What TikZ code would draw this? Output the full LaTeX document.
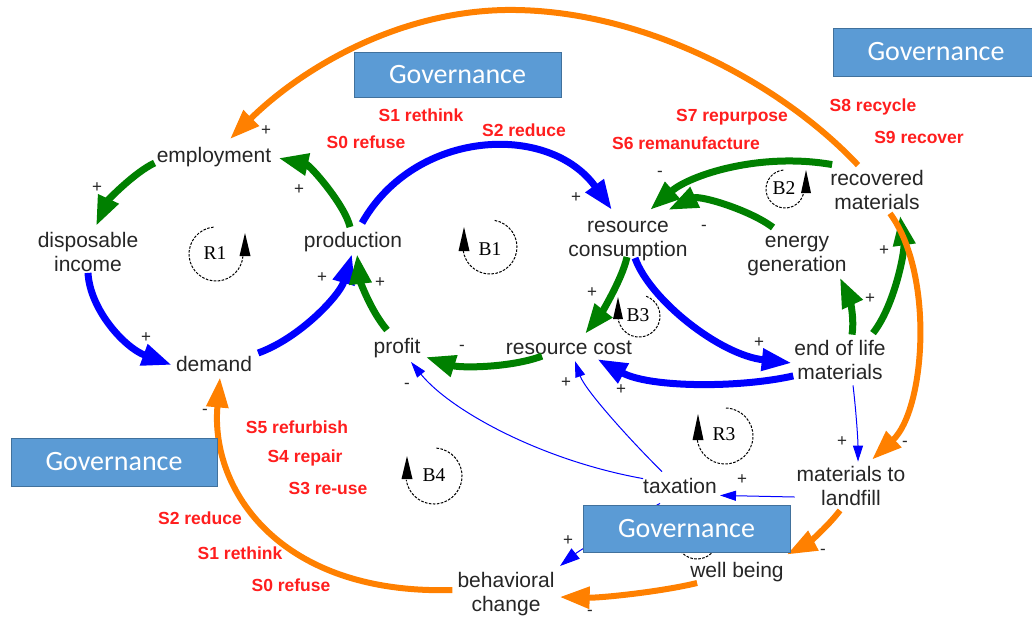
\documentclass[tikz,border=0pt]{standalone}
\usepackage{fontspec}
\setmainfont{Liberation Sans}
\newfontfamily\govfont{Carlito}
\newfontfamily\loopfont{Liberation Serif}
\usetikzlibrary{arrows.meta}
\definecolor{cldblue}{RGB}{0,0,255}
\definecolor{cldgreen}{RGB}{0,128,0}
\definecolor{cldorange}{RGB}{255,128,0}
\definecolor{stratred}{RGB}{255,30,30}
\definecolor{govfill}{RGB}{91,155,213}
\definecolor{govedge}{RGB}{65,113,156}
\definecolor{vartext}{RGB}{38,38,38}

\begin{document}
\begin{tikzpicture}[x=1pt,y=-1pt,
  var/.style={font=\fontsize{21}{24}\selectfont, text=vartext, align=center, inner sep=1pt},
  strat/.style={font=\bfseries\fontsize{17.5}{20}\selectfont, text=stratred, inner sep=0pt},
  sgn/.style={font=\fontsize{17}{17}\selectfont, text=vartext, inner sep=0pt},
  gov/.style={draw=govedge, line width=1pt, fill=govfill, text=white,
    font=\govfont\fontsize{28}{30}\selectfont, inner sep=0pt},
  looplbl/.style={font=\loopfont\fontsize{19.5}{20}\selectfont, inner sep=0pt},
  loopline/.style={draw=black, line width=1pt, dash pattern=on 2.6pt off 1.4pt},
  bigtip/.style={-{Triangle[length=30pt,width=21pt]}},
  blueflow/.style={draw=cldblue, line width=7pt, bigtip},
  greenflow/.style={draw=cldgreen, line width=7pt, bigtip},
  orangeflow/.style={draw=cldorange, line width=6pt, bigtip},
  thinflow/.style={draw=cldblue, line width=1pt, -{Triangle[length=16pt,width=10pt]}},
]
\useasboundingbox (0,0) rectangle (1032,621);
\fill[white] (0,0) rectangle (1032,621);
\clip (0,0) rectangle (1032,621);

% ---- variables ----
\node[var] (empl)   at (214,157) {employment};
\node[var] (disp)   at (88,252)  {disposable\\income};
\node[var] (dem)    at (214,364) {demand};
\node[var] (prod)   at (353,242) {production};
\node[var] (prof)   at (397,348) {profit};
\node[var] (rcons)  at (628,241) {resource\\consumption};
\node[var] (rcost)  at (569,348) {resource cost};
\node[var] (energy) at (797,256) {energy\\generation};
\node[var] (recov)  at (877,190) {recovered\\materials};
\node[var] (eol)    at (840,360) {end of life\\materials};
\node[var] (landf)  at (851,486) {materials to\\landfill};
\node[var] (tax)    at (680,486) {taxation};
\node[var] (well)   at (737,572) {well being};
\node[var] (behav)  at (506,594) {behavioral\\change};

% ---- loop markers ----
\node[looplbl] (r1) at (215,253) {R1};
\draw[loopline] ([shift={(95:27pt)}]216,254) arc[start angle=95, end angle=355, radius=27pt];
\fill (245,233) -- (239.5,256) -- (250.5,256) -- cycle;

\node[looplbl] (b1) at (490,249) {B1};
\draw[loopline] ([shift={(80:27pt)}]490,247) arc[start angle=80, end angle=-172, radius=27pt];
\fill (464,227) -- (458.5,251) -- (469.5,251) -- cycle;

\node[looplbl] (b3) at (638,315) {B3};
\draw[loopline] ([shift={(70:21pt)}]639,316) arc[start angle=70, end angle=-172, radius=21pt];
\fill (618,297) -- (613,319) -- (623,319) -- cycle;

\node[looplbl] (b2) at (784,188) {B2};
\draw[loopline] ([shift={(95:19pt)}]785,189) arc[start angle=95, end angle=345, radius=19pt];
\fill (806,170) -- (801,193) -- (811,193) -- cycle;

\node[looplbl] (r3) at (724,434) {R3};
\draw[loopline] ([shift={(88:28pt)}]725,436) arc[start angle=88, end angle=-172, radius=28pt];
\fill (698,414) -- (692.5,440) -- (703.5,440) -- cycle;

\node[looplbl] (b4) at (434,475) {B4};
\draw[loopline] ([shift={(85:28pt)}]434,476) arc[start angle=85, end angle=-172, radius=28pt];
\fill (407,456) -- (401.5,479) -- (412.5,479) -- cycle;

% loop behind the lower governance box
\draw[loopline] (697,538) circle[radius=21pt];

% ---- links ----
\draw[greenflow] ([shift={(-3,-4)}]prod.north) .. controls (345,205) and (310,165) .. ([shift={(6,1)}]empl.east);
\draw[greenflow] ([shift={(-1,6)}]empl.west) .. controls (135,172) and (108,200) .. ([shift={(8,-5)}]disp.north);
\draw[blueflow] (disp.south) .. controls (90,310) and (125,348) .. ([shift={(-3,1)}]dem.west);
\draw[blueflow] ([shift={(5,-11)}]dem.east) .. controls (300,338) and (340,295) .. ([shift={(-1,1)}]prod.south);
\draw[greenflow] ([shift={(-10,-7)}]prof.north) .. controls (370,310) and (360,280) .. ([shift={(4,1)}]prod.south);
\draw[blueflow] ([shift={(9,-8)}]prod.north) .. controls (415,129) and (549,122) .. ([shift={(-16,-10)}]rcons.north);
\draw[greenflow] ([shift={(-1,-5)}]rcons.south) .. controls (622,280) and (600,315) .. ([shift={(16,-6)}]rcost.north);
\draw[blueflow] ([shift={(7,-4)}]rcons.south) .. controls (650,300) and (720,355) .. ([shift={(-1.5,3)}]eol.west);
\draw[blueflow] ([shift={(0,-5)}]eol.south west) .. controls (740,388) and (650,388) .. ([shift={(-36,3)}]rcost.south east);
\draw[greenflow] ([shift={(-27,0)}]rcost.south) .. controls (510,368) and (460,368) .. ([shift={(4,-2)}]prof.south east);
\draw[greenflow] ([shift={(3,-4.5)}]recov.north west) .. controls (760,152) and (690,175) .. ([shift={(22,-10)}]rcons.north);
\draw[greenflow] ([shift={(-24,-7.5)}]energy.north) .. controls (750,210) and (700,195) .. ([shift={(40,-10)}]rcons.north);
\draw[greenflow] ([shift={(12,-4.5)}]eol.north) .. controls (855,315) and (848,295) .. ([shift={(-8,0.5)}]energy.south east);
\draw[greenflow] ([shift={(33,-6)}]eol.north) .. controls (895,305) and (905,250) .. ([shift={(23,4.5)}]recov.south);

\draw[thinflow] ([shift={(13,4.5)}]eol.south) .. controls (856,410) and (858,440) .. ([shift={(7,-3.5)}]landf.north);
\draw[thinflow] ([shift={(-1,11)}]landf.west) -- ([shift={(2,0.5)}]tax.south east);
\draw[thinflow] ([shift={(-18,-5.5)}]tax.north) .. controls (630,440) and (585,390) .. ([shift={(6,5)}]rcost.south);
\draw[thinflow] ([shift={(1,1.5)}]tax.north west) .. controls (540,460) and (450,410) .. ([shift={(14,3)}]prof.south);
\draw[thinflow, -{Triangle[length=20pt,width=13pt]}] ([shift={(-20,8.5)}]tax.south) .. controls (630,520) and (580,550) .. ([shift={(54,-5)}]behav.north);

\draw[orangeflow] ([shift={(-19,-4)}]recov.north) .. controls (780,82) and (640,8) .. (505,10)
  .. controls (395,12) and (300,70) .. ([shift={(16,-7)}]empl.north);
\draw[orangeflow] ([shift={(13,2.5)}]recov.south) .. controls (935,275) and (925,410) .. ([shift={(21,-5.5)}]landf.north);
\draw[orangeflow] ([shift={(-11,3.5)}]landf.south) .. controls (825,530) and (805,545) .. ([shift={(2,-6.5)}]well.north east);
\draw[orangeflow] ([shift={(8,0)}]well.south west) .. controls (660,592) and (600,598) .. ([shift={(4,3)}]behav.east);
\draw[orangeflow] ([shift={(-4,-4)}]behav.west) .. controls (280,595) and (210,490) .. ([shift={(6,4.5)}]dem.south);

% ---- polarities ----
\node[sgn] (p1)  at (266,131) {+};
\node[sgn] (p2)  at (97,188)  {+};
\node[sgn] (p3)  at (299,190) {+};
\node[sgn] (p4)  at (322,278) {+};
\node[sgn] (p5)  at (380,283) {+};
\node[sgn] (p6)  at (146,338) {+};
\node[sgn] (p7)  at (576,198) {+};
\node[sgn] (p8)  at (660,174) {-};
\node[sgn] (p9)  at (592,293) {+};
\node[sgn] (p10) at (462,348) {-};
\node[sgn] (p11) at (407,386) {-};
\node[sgn] (p12) at (566,383) {+};
\node[sgn] (p13) at (621,390) {+};
\node[sgn] (p14) at (704,228) {-};
\node[sgn] (p15) at (884,251) {+};
\node[sgn] (p16) at (870,299) {+};
\node[sgn] (p17) at (759,343) {+};
\node[sgn] (p18) at (842,442) {+};
\node[sgn] (p19) at (905,444) {-};
\node[sgn] (p20) at (742,480) {+};
\node[sgn] (p21) at (568,541) {+};
\node[sgn] (p22) at (823,552) {-};
\node[sgn] (p23) at (590,613) {-};
\node[sgn] (p24) at (205,412) {-};

% ---- strategies ----
\node[strat] (t1)  at (421,115) {S1 rethink};
\node[strat] (t2)  at (366,142) {S0 refuse};
\node[strat] (t3)  at (524,130) {S2 reduce};
\node[strat] (t4)  at (732,117) {S7 repurpose};
\node[strat] (t5)  at (686,143) {S6 remanufacture};
\node[strat] (t6)  at (873,107) {S8 recycle};
\node[strat] (t7)  at (919,137) {S9 recover};
\node[strat] (t8)  at (297,427) {S5 refurbish};
\node[strat] (t9)  at (305,458) {S4 repair};
\node[strat] (t10) at (328,488) {S3 re-use};
\node[strat] (t11) at (200,518) {S2 reduce};
\node[strat] (t12) at (240,553) {S1 rethink};
\node[strat] (t13) at (291,585) {S0 refuse};

% ---- governance boxes ----
\node[gov, minimum width=207pt, minimum height=45pt] (gov1) at (457.5,74.5) {Governance};
\node[gov, minimum width=206pt, minimum height=48pt] (gov2) at (936,52) {Governance};
\node[gov, minimum width=206pt, minimum height=48pt] (gov3) at (114,462) {Governance};
\node[gov, minimum width=207pt, minimum height=47pt] (gov4) at (686.5,528.5) {Governance};
\end{tikzpicture}
\end{document}
